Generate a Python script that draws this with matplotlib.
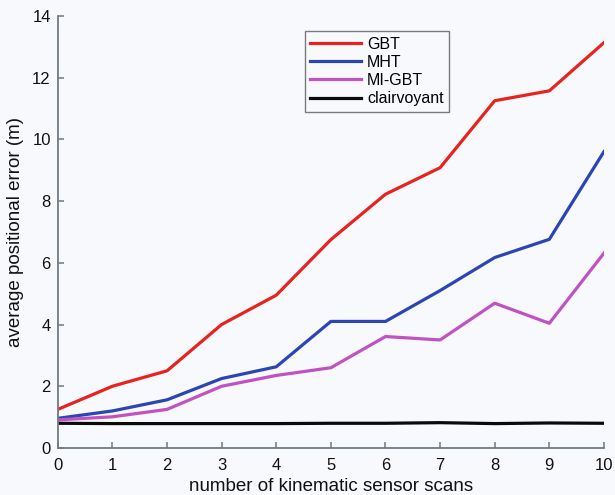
import numpy as np
import matplotlib.pyplot as plt

plt.rcParams['font.family'] = ['Liberation Sans', 'DejaVu Sans']

scans = [0, 1, 2, 3, 4, 5, 6, 7, 8, 9, 10]
gbt = [1.25, 2.0, 2.5, 4.0, 4.95, 6.75, 8.22, 9.08, 11.25, 11.57, 13.13]
mht = [0.96, 1.2, 1.56, 2.25, 2.63, 4.1, 4.1, 5.1, 6.17, 6.76, 9.6]
mi_gbt = [0.91, 1.01, 1.25, 2.0, 2.35, 2.6, 3.61, 3.5, 4.69, 4.04, 6.31]
clairvoyant = [0.8, 0.79, 0.79, 0.79, 0.79, 0.8, 0.8, 0.82, 0.79, 0.81, 0.8]

bg = '#f8f9fc'
spine_col = '#6e7b80'

fig = plt.figure(figsize=(6.15, 4.95), dpi=100, facecolor=bg)
ax = fig.add_axes([0.094, 0.095, 0.888, 0.873], facecolor=bg)

ax.plot(scans, gbt, color='#e8231f', lw=2.3, label='GBT')
ax.plot(scans, mht, color='#2a46b4', lw=2.3, label='MHT')
ax.plot(scans, mi_gbt, color='#c052c2', lw=2.3, label='MI-GBT')
ax.plot(scans, clairvoyant, color='#0a0a0a', lw=2.3, label='clairvoyant')

ax.set_xlim(0, 10)
ax.set_ylim(0, 14)
ax.set_xticks(range(0, 11))
ax.set_yticks(range(0, 15, 2))

for side in ['top', 'right']:
    ax.spines[side].set_visible(False)
for side in ['left', 'bottom']:
    ax.spines[side].set_color(spine_col)
    ax.spines[side].set_linewidth(1.3)
ax.tick_params(direction='in', length=4, width=1.1, color=spine_col,
               labelsize=12, labelcolor='#111111', pad=5)
ax.tick_params(axis='x', pad=7)

ax.set_xlabel('number of kinematic sensor scans', fontsize=13.5, color='#111111', labelpad=4)
ax.set_ylabel('average positional error (m)', fontsize=13.5, color='#111111', labelpad=6)

leg = ax.legend(loc='upper left', bbox_to_anchor=(0.452, 0.965), fontsize=11.5,
                handlelength=3.2, handletextpad=0.35, labelspacing=0.2,
                borderpad=0.35, borderaxespad=0, fancybox=False, framealpha=1)
leg.get_frame().set_edgecolor('#7a7a7a')
leg.get_frame().set_facecolor(bg)
leg.get_frame().set_linewidth(1.0)

fig.savefig('out.png', dpi=100, facecolor=bg)
